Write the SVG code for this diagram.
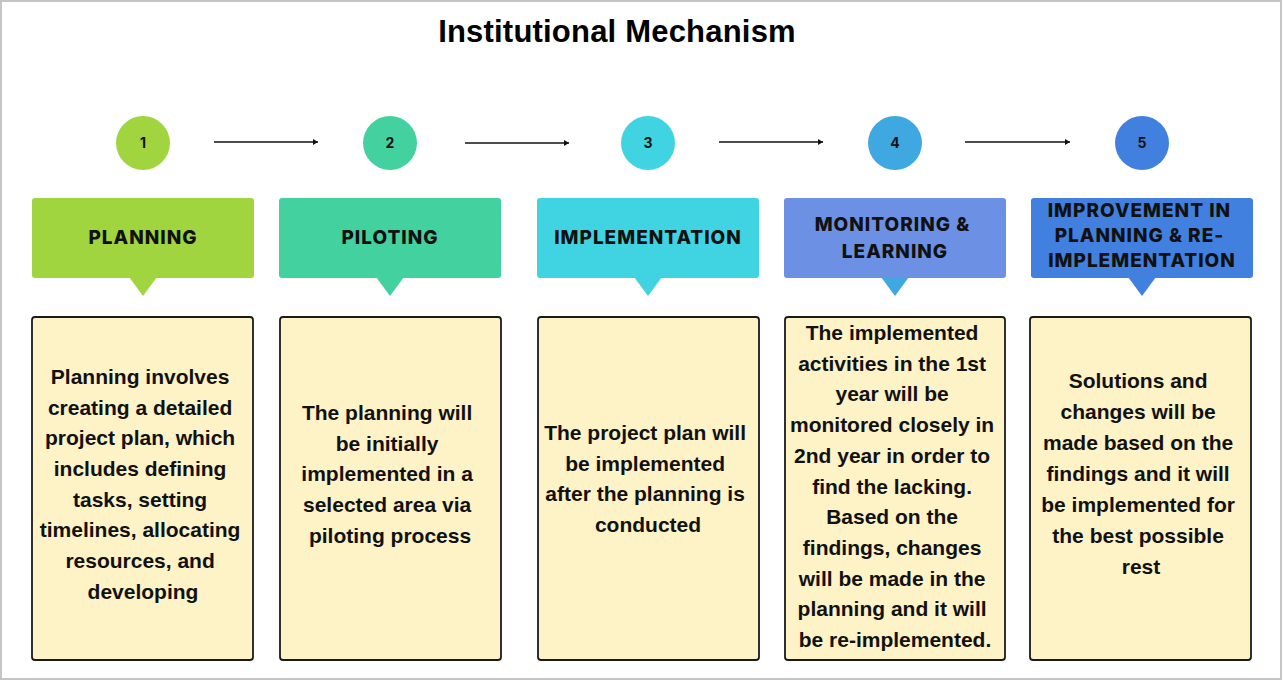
<svg xmlns="http://www.w3.org/2000/svg" width="1285" height="682" viewBox="0 0 1285 682">
<style>
.title{font-family:"Liberation Sans",Arial,sans-serif;font-weight:700;font-size:31px;letter-spacing:0.2px;fill:#000}
.num{font-family:Inter,"Liberation Sans",sans-serif;font-weight:700;font-size:14px;fill:#111}
.hdr{font-family:Inter,"Liberation Sans",sans-serif;font-weight:800;font-size:19px;letter-spacing:1px;fill:#111}
.body{font-family:"Liberation Sans",Arial,sans-serif;font-weight:700;font-size:21px;fill:#111}
.card{fill:#FEF2C7;stroke:#1a1a1a;stroke-width:1.8}
.conn{stroke:#111;stroke-width:1.5;fill:none}
</style>
<defs>
<marker id="ah" markerWidth="6" markerHeight="6" refX="5" refY="3" orient="auto" markerUnits="userSpaceOnUse">
<path d="M0,0 L5,3 L0,6 Z" fill="#111"/>
</marker>
</defs>
<rect x="1" y="1" width="1280" height="678" fill="#fff" stroke="#c4c4c4" stroke-width="2"/>
<text class="title" x="617" y="42" text-anchor="middle">Institutional Mechanism</text>

<g id="connectors">
<line class="conn" x1="214" y1="142" x2="318" y2="142" marker-end="url(#ah)"/>
<line class="conn" x1="465" y1="143" x2="569" y2="143" marker-end="url(#ah)"/>
<line class="conn" x1="719" y1="142" x2="823" y2="142" marker-end="url(#ah)"/>
<line class="conn" x1="965" y1="142" x2="1070" y2="142" marker-end="url(#ah)"/>
</g>

<g id="step1">
<circle cx="143" cy="143" r="27" fill="#A0D540"/>
<text class="num" x="143" y="148" text-anchor="middle">1</text>
<rect x="32" y="198" width="222" height="80" rx="3" fill="#A0D540"/>
<path d="M129,277 L157,277 L143,296 Z" fill="#A0D540"/>
<text class="hdr" x="143" y="244" text-anchor="middle">PLANNING</text>
<rect class="card" x="32" y="317" width="221" height="343" rx="3"/>
<text class="body" text-anchor="middle">
<tspan x="143" y="384">Planning involves</tspan>
<tspan x="143" y="415">creating a detailed</tspan>
<tspan x="143" y="445">project plan, which</tspan>
<tspan x="143" y="476">includes defining</tspan>
<tspan x="143" y="507">tasks, setting</tspan>
<tspan x="143" y="537">timelines, allocating</tspan>
<tspan x="143" y="568">resources, and</tspan>
<tspan x="143" y="599">developing</tspan>
</text>
</g>

<g id="step2">
<circle cx="390" cy="143" r="27" fill="#43D29F"/>
<text class="num" x="390" y="148" text-anchor="middle">2</text>
<rect x="279" y="198" width="222" height="80" rx="3" fill="#43D29F"/>
<path d="M376,277 L404,277 L390,296 Z" fill="#43D29F"/>
<text class="hdr" x="390" y="244" text-anchor="middle">PILOTING</text>
<rect class="card" x="280" y="317" width="221" height="343" rx="3"/>
<text class="body" text-anchor="middle">
<tspan x="390" y="420">The planning will</tspan>
<tspan x="390" y="451">be initially</tspan>
<tspan x="390" y="481">implemented in a</tspan>
<tspan x="390" y="512">selected area via</tspan>
<tspan x="390" y="543">piloting process</tspan>
</text>
</g>

<g id="step3">
<circle cx="648" cy="143" r="27" fill="#40D4E2"/>
<text class="num" x="648" y="148" text-anchor="middle">3</text>
<rect x="537" y="198" width="222" height="80" rx="3" fill="#40D4E2"/>
<path d="M634,277 L662,277 L648,296 Z" fill="#40D4E2"/>
<text class="hdr" x="648" y="244" text-anchor="middle">IMPLEMENTATION</text>
<rect class="card" x="538" y="317" width="221" height="343" rx="3"/>
<text class="body" text-anchor="middle">
<tspan x="648" y="440">The project plan will</tspan>
<tspan x="648" y="471">be implemented</tspan>
<tspan x="648" y="501">after the planning is</tspan>
<tspan x="648" y="532">conducted</tspan>
</text>
</g>

<g id="step4">
<circle cx="895" cy="143" r="27" fill="#3FA8E0"/>
<text class="num" x="895" y="148" text-anchor="middle">4</text>
<rect x="784" y="198" width="222" height="80" rx="3" fill="#6B90E4"/>
<path d="M881,277 L909,277 L895,296 Z" fill="#3FA8E0"/>
<text class="hdr" text-anchor="middle">
<tspan x="895" y="231">MONITORING &amp;</tspan>
<tspan x="895" y="258">LEARNING</tspan>
</text>
<rect class="card" x="785" y="317" width="220" height="343" rx="3"/>
<text class="body" text-anchor="middle">
<tspan x="895" y="340">The implemented</tspan>
<tspan x="895" y="371">activities in the 1st</tspan>
<tspan x="895" y="401">year will be</tspan>
<tspan x="895" y="432">monitored closely in</tspan>
<tspan x="895" y="463">2nd year in order to</tspan>
<tspan x="895" y="494">find the lacking.</tspan>
<tspan x="895" y="524">Based on the</tspan>
<tspan x="895" y="555">findings, changes</tspan>
<tspan x="895" y="586">will be made in the</tspan>
<tspan x="895" y="616">planning and it will</tspan>
<tspan x="895" y="647">be re-implemented.</tspan>
</text>
</g>

<g id="step5">
<circle cx="1142" cy="143" r="27" fill="#4180DE"/>
<text class="num" x="1142" y="148" text-anchor="middle">5</text>
<rect x="1031" y="198" width="222" height="80" rx="3" fill="#4180DE"/>
<path d="M1128,277 L1156,277 L1142,296 Z" fill="#4180DE"/>
<text class="hdr" text-anchor="middle">
<tspan x="1142" y="217">IMPROVEMENT IN</tspan>
<tspan x="1142" y="242">PLANNING &amp; RE-</tspan>
<tspan x="1142" y="267">IMPLEMENTATION</tspan>
</text>
<rect class="card" x="1030" y="317" width="221" height="343" rx="3"/>
<text class="body" text-anchor="middle">
<tspan x="1141" y="388">Solutions and</tspan>
<tspan x="1141" y="419">changes will be</tspan>
<tspan x="1141" y="450">made based on the</tspan>
<tspan x="1141" y="481">findings and it will</tspan>
<tspan x="1141" y="512">be implemented for</tspan>
<tspan x="1141" y="543">the best possible</tspan>
<tspan x="1141" y="574">rest</tspan>
</text>
</g>
</svg>
